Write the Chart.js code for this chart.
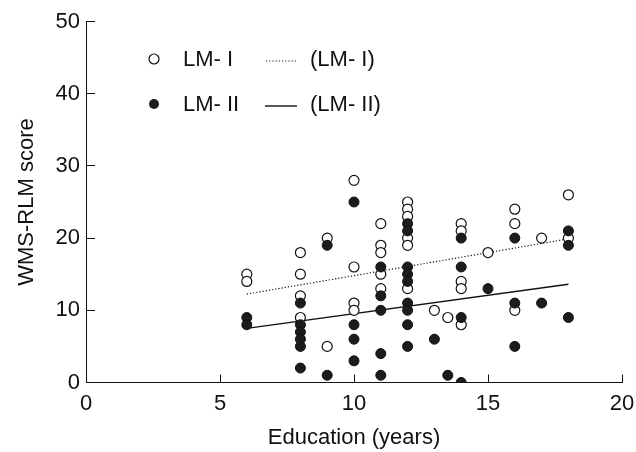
<!DOCTYPE html>
<html>
<head>
<meta charset="utf-8">
<script src="https://cdn.jsdelivr.net/npm/chart.js@4.4.0/dist/chart.umd.min.js"></script>
<style>
  html, body { margin: 0; padding: 0; background: #fff; }
  #wrap { width: 636px; height: 452px; }
</style>
</head>
<body>
<div id="wrap"><canvas id="g_wms"></canvas></div>
<script>
// LM-I (open circles)
const lm1X = [6, 6, 8, 8, 8, 8, 9, 9, 10, 10, 10, 10, 11, 11, 11, 11, 11, 12, 12, 12, 12, 12, 12, 13, 13.5, 14, 14, 14, 14, 14, 15, 16, 16, 16, 17, 18, 18];
const lm1Y = [15, 14, 18, 15, 12, 9, 20, 5, 28, 16, 11, 10, 22, 19, 18, 15, 13, 25, 24, 23, 20, 19, 13, 10, 9, 22, 21, 14, 13, 8, 18, 24, 22, 10, 20, 26, 20];
// LM-II (filled circles)
const lm2X = [6, 6, 8, 8, 8, 8, 8, 8, 9, 9, 10, 10, 10, 10, 11, 11, 11, 11, 11, 12, 12, 12, 12, 12, 12, 12, 12, 12, 13, 13.5, 14, 14, 14, 14, 15, 16, 16, 16, 17, 18, 18, 18];
const lm2Y = [9, 8, 11, 8, 7, 6, 5, 2, 19, 1, 25, 8, 6, 3, 16, 12, 10, 4, 1, 22, 21, 16, 15, 14, 11, 10, 8, 5, 6, 1, 20, 16, 9, 0, 13, 20, 11, 5, 11, 21, 19, 9];
// regression lines, end points
const fit1X = [6, 18];
const fit1Y = [12.25, 19.9];
const fit2X = [6, 18];
const fit2Y = [7.5, 13.6];
// axes
const xTicks = [0, 5, 10, 15, 20];
const yTicks = [0, 10, 20, 30, 40, 50];

const FONT = "'Liberation Sans', Arial, Helvetica, sans-serif";

function toPoints(xs, ys) {
    return xs.map(function(x, i) {
        return { x: x, y: ys[i] };
    });
}

// legend drawn by hand, two rows: marker + name, line sample + name
const legendPlugin = {
    id: 'wmsLegend',
    afterDraw(chart) {
        const ctx = chart.ctx;
        ctx.save();
        ctx.font = "22px " + FONT;
        ctx.fillStyle = '#111';
        ctx.textBaseline = 'middle';
        ctx.textAlign = 'left';
        // row 1
        ctx.beginPath();
        ctx.arc(154, 59, 5, 0, Math.PI * 2);
        ctx.fillStyle = '#fff';
        ctx.fill();
        ctx.strokeStyle = '#111';
        ctx.lineWidth = 1.2;
        ctx.stroke();
        ctx.fillStyle = '#111';
        ctx.fillText('LM- I', 183, 60);
        ctx.beginPath();
        ctx.setLineDash([1.2, 2]);
        ctx.moveTo(266, 61);
        ctx.lineTo(297, 61);
        ctx.lineWidth = 1.2;
        ctx.stroke();
        ctx.setLineDash([]);
        ctx.fillText('(LM- I)', 310, 60);
        // row 2
        ctx.beginPath();
        ctx.arc(154, 104, 5, 0, Math.PI * 2);
        ctx.fillStyle = '#1c1c1c';
        ctx.fill();
        ctx.fillStyle = '#111';
        ctx.fillText('LM- II', 183, 105);
        ctx.beginPath();
        ctx.moveTo(265, 106);
        ctx.lineTo(297, 106);
        ctx.lineWidth = 1.4;
        ctx.stroke();
        ctx.fillText('(LM- II)', 310, 105);
        ctx.restore();
    }
};

const conData = {
    datasets: [{
        label: 'LM- II',
        data: toPoints(lm2X, lm2Y),
        backgroundColor: '#1c1c1c',
        borderColor: '#111',
        borderWidth: 1,
        pointRadius: 5,
        showLine: false,
        order: 0
    }, {
        label: 'LM- I',
        data: toPoints(lm1X, lm1Y),
        backgroundColor: '#fff',
        borderColor: '#111',
        borderWidth: 1.2,
        pointRadius: 5,
        showLine: false,
        order: 1
    }, {
        label: '(LM- I)',
        data: toPoints(fit1X, fit1Y),
        showLine: true,
        borderColor: '#111',
        borderWidth: 1.2,
        borderDash: [1.2, 2],
        pointRadius: 0,
        order: 2
    }, {
        label: '(LM- II)',
        data: toPoints(fit2X, fit2Y),
        showLine: true,
        borderColor: '#111',
        borderWidth: 1.4,
        pointRadius: 0,
        order: 2
    }]
};

const options = {
    responsive: false,
    animation: false,
    layout: { padding: { left: 4, right: 14, top: 21.5, bottom: 0 } },
    plugins: {
        legend: { display: false },
        tooltip: { enabled: false }
    },
    scales: {
        x: {
            type: 'linear',
            min: 0,
            max: 20,
            afterBuildTicks: function(scale) {
                scale.ticks = xTicks.map(function(v) { return { value: v }; });
            },
            afterFit: function(scale) {
                scale.height = 69.5;
                scale.paddingLeft = 6;
                scale.paddingRight = 12;
            },
            grid: { drawOnChartArea: false, tickLength: -8, color: '#111', lineWidth: 1 },
            border: { display: true, color: '#111', width: 1 },
            ticks: { color: '#111', padding: 16, font: { family: FONT, size: 22 } },
            title: {
                display: true,
                text: 'Education (years)',
                color: '#111',
                padding: { top: 0, bottom: 1 },
                font: { family: FONT, size: 22 }
            }
        },
        y: {
            type: 'linear',
            min: 0,
            max: 50,
            afterBuildTicks: function(scale) {
                scale.ticks = yTicks.map(function(v) { return { value: v }; });
            },
            afterFit: function(scale) {
                scale.width = 82;
                scale.paddingTop = 12;
                scale.paddingBottom = 12;
            },
            grid: { drawOnChartArea: false, tickLength: -9, color: '#111', lineWidth: 1 },
            border: { display: true, color: '#111', width: 1 },
            ticks: { color: '#111', padding: 15, font: { family: FONT, size: 22 } },
            title: {
                display: true,
                text: 'WMS-RLM score',
                color: '#111',
                padding: { top: 10, bottom: 0 },
                font: { family: FONT, size: 22 }
            }
        }
    }
};

window.addEventListener('load', () => {
    const canvas = document.getElementById('g_wms');
    canvas.width = 636;
    canvas.height = 452;
    new Chart(canvas.getContext('2d'), {
        type: 'scatter',
        data: conData,
        options: options,
        plugins: [legendPlugin]
    });
});
</script>
</body>
</html>
